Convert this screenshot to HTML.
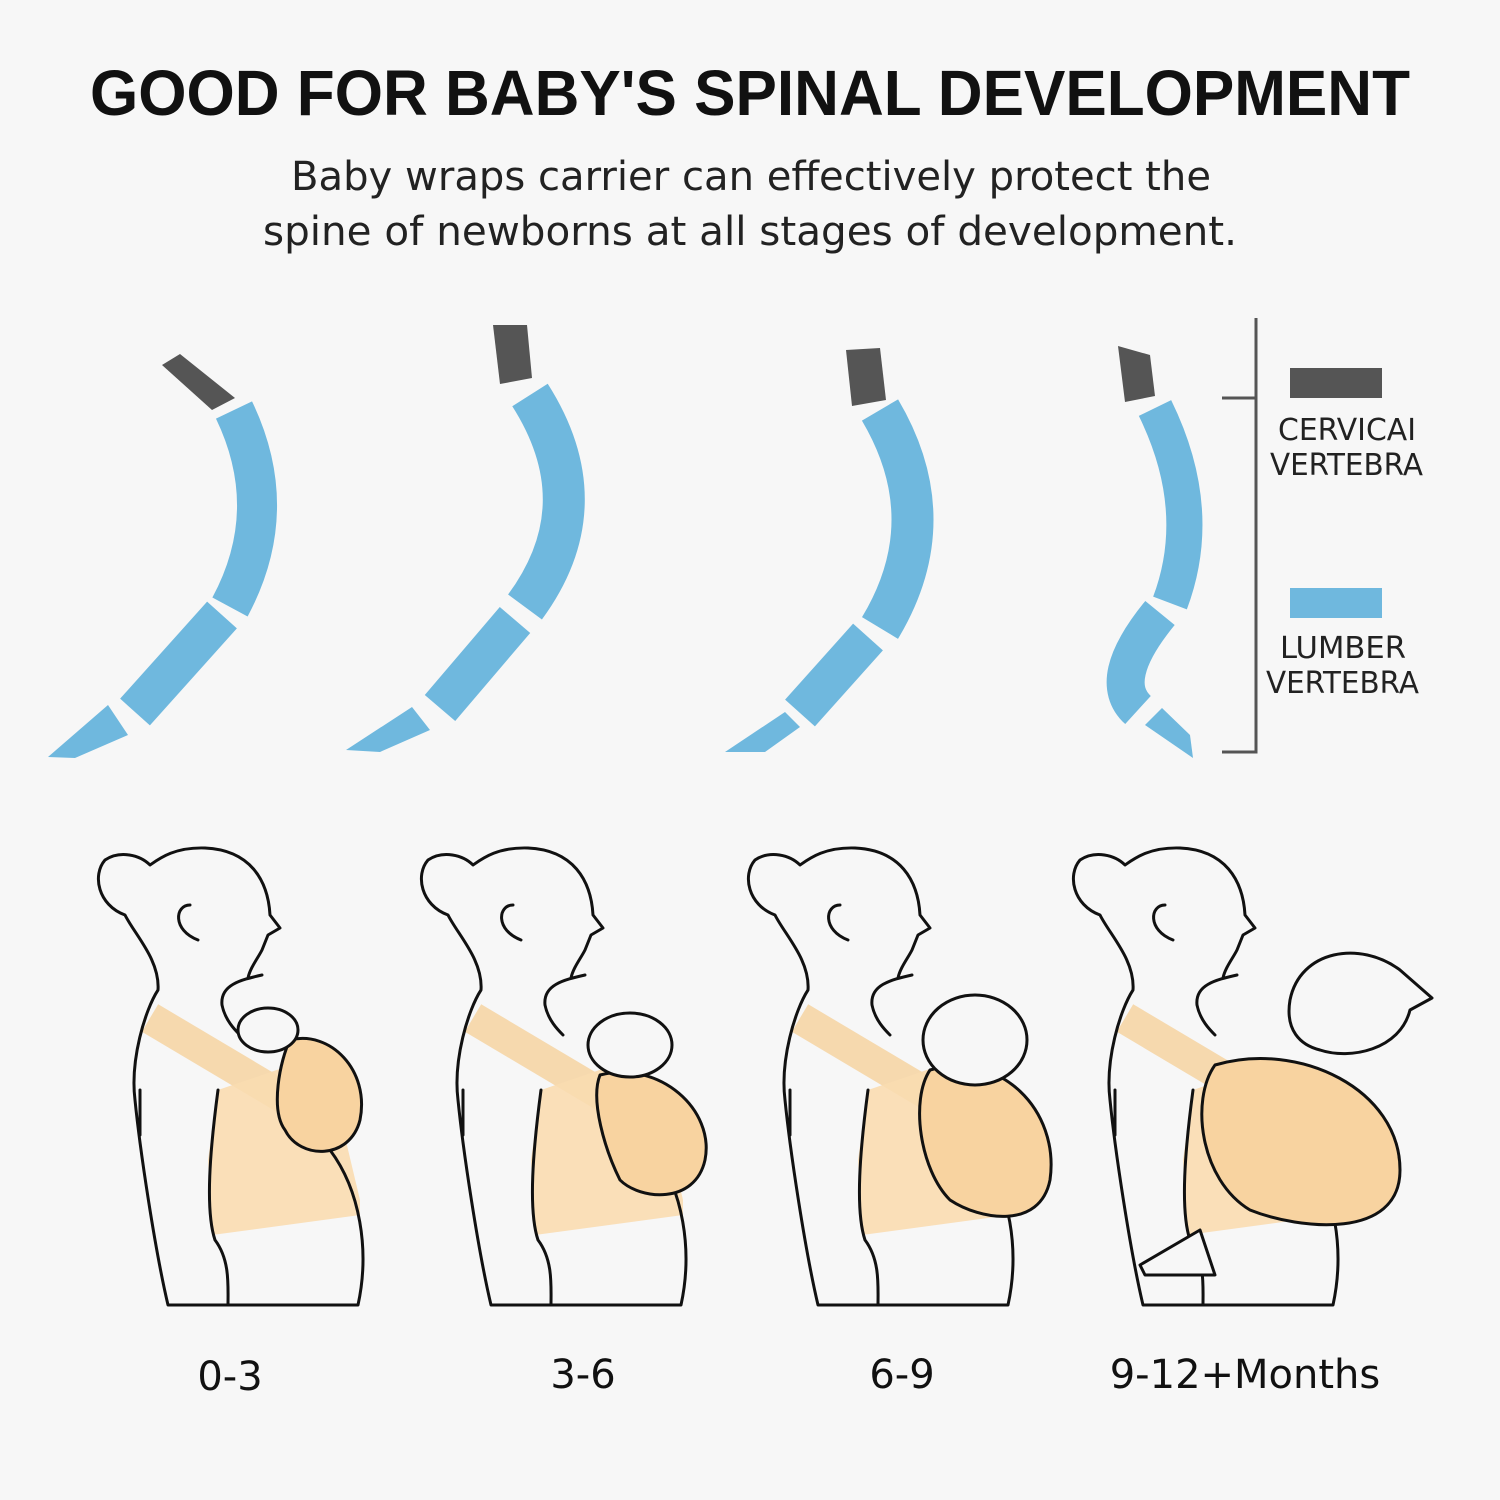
<!DOCTYPE html>
<html><head><meta charset="utf-8"><style>
html,body{margin:0;padding:0;background:#f7f7f7}
svg{display:block}
</style></head><body>
<svg width="1500" height="1500" viewBox="0 0 1500 1500" xmlns="http://www.w3.org/2000/svg">
<rect width="1500" height="1500" fill="#f7f7f7"/>
<text x="90" y="115" textLength="1320" lengthAdjust="spacingAndGlyphs" font-family="Liberation Sans, sans-serif" font-weight="bold" font-size="64" fill="#111">GOOD FOR BABY'S SPINAL DEVELOPMENT</text>
<text x="291" y="190" textLength="920" lengthAdjust="spacingAndGlyphs" font-family="DejaVu Sans, sans-serif" font-size="40" fill="#222">Baby wraps carrier can effectively protect the</text>
<text x="263" y="245" textLength="974" lengthAdjust="spacingAndGlyphs" font-family="DejaVu Sans, sans-serif" font-size="40" fill="#222">spine of newborns at all stages of development.</text>

<g fill="#555">
<polygon points="162,365 180,354 235,398 212,410"/>
<polygon points="493,325 527,325 532,378 500,384"/>
<polygon points="846,350 880,348 886,400 852,406"/>
<polygon points="1118,346 1150,355 1155,396 1125,402"/>
</g>
<g fill="none" stroke="#6fb8de" stroke-linecap="butt">
<path d="M234,410 Q282,510 230,607" stroke-width="40"/>
<path d="M222,615 L135,712" stroke-width="40"/>
<path d="M530,395 Q600,505 525,607" stroke-width="42"/>
<path d="M515,620 L440,708" stroke-width="40"/>
<path d="M880,410 Q945,520 880,628" stroke-width="42"/>
<path d="M868,637 L800,713" stroke-width="40"/>
<path d="M1155,408 Q1205,510 1170,603" stroke-width="36"/>
<path d="M1160,613 Q1105,680 1138,710" stroke-width="38"/>
</g>
<g fill="#6fb8de">
<polygon points="108,705 128,735 75,758 48,757"/>
<polygon points="412,707 430,730 380,752 346,750"/>
<polygon points="785,712 800,727 765,752 725,752"/>
<polygon points="1162,708 1190,735 1193,758 1145,725"/>
</g>
<g stroke="#555" stroke-width="3" fill="none">
<path d="M1256,318 L1256,752 L1222,752"/>
<path d="M1222,398 L1256,398"/>
</g>
<rect x="1290" y="368" width="92" height="30" fill="#555"/>
<rect x="1290" y="588" width="92" height="30" fill="#6fb8de"/>
<g font-family="DejaVu Sans, sans-serif" font-size="30" fill="#222">
<text x="1278" y="440" textLength="138" lengthAdjust="spacingAndGlyphs">CERVICAI</text>
<text x="1270" y="475" textLength="153" lengthAdjust="spacingAndGlyphs">VERTEBRA</text>
<text x="1280" y="658" textLength="126" lengthAdjust="spacingAndGlyphs">LUMBER</text>
<text x="1266" y="693" textLength="153" lengthAdjust="spacingAndGlyphs">VERTEBRA</text>
</g>

<defs>
<g id="mom">
<path d="M150,1018 L330,1125" stroke="#f6cf96" stroke-width="32" opacity="0.75" fill="none"/>
<polygon points="218,1090 300,1062 335,1095 360,1200 360,1215 212,1235 208,1160" fill="#f9dcb0" opacity="0.9"/>
<g fill="none" stroke="#111" stroke-width="3" stroke-linejoin="round" stroke-linecap="round">
<path d="M248,978 C250,968 258,958 262,950 L268,935 L280,928 L270,915 C268,880 250,850 205,848 C175,847 160,858 150,865 C140,855 120,850 105,860 C92,875 98,905 125,915 C135,935 160,960 158,990 C145,1010 130,1060 135,1100 C140,1150 155,1250 168,1305 L358,1305 C370,1250 360,1190 330,1150"/>
<path d="M262,975 C240,980 220,985 222,1005 C225,1020 235,1030 240,1035"/>
<path d="M218,1090 C210,1150 205,1210 215,1240 C230,1260 228,1285 228,1305"/>
<path d="M140,1090 L140,1135"/>
<path d="M190,905 C175,905 172,930 198,940"/>
</g>
</g>
</defs>
<use href="#mom"/>
<use href="#mom" transform="translate(323,0)"/>
<use href="#mom" transform="translate(650,0)"/>
<use href="#mom" transform="translate(975,0)"/>

<g stroke="#111" stroke-width="3" stroke-linejoin="round">
<path d="M290,1040 C330,1030 370,1070 360,1120 C350,1160 300,1160 285,1130 C270,1110 280,1060 290,1040Z" fill="#f8d3a0"/>
<ellipse cx="268" cy="1030" rx="30" ry="22" fill="#f7f7f7"/>
<path d="M600,1075 C660,1060 715,1110 705,1160 C695,1205 640,1200 620,1180 C605,1150 590,1100 600,1075Z" fill="#f8d3a0"/>
<ellipse cx="630" cy="1045" rx="42" ry="32" fill="#f7f7f7"/>
<path d="M930,1070 C1000,1050 1060,1110 1050,1180 C1040,1230 980,1220 950,1200 C920,1170 910,1100 930,1070Z" fill="#f8d3a0"/>
<ellipse cx="975" cy="1040" rx="52" ry="45" fill="#f7f7f7"/>
<path d="M1215,1065 C1300,1040 1400,1090 1400,1170 C1400,1240 1300,1230 1250,1210 C1200,1180 1190,1100 1215,1065Z" fill="#f8d3a0"/>
<path d="M1140,1265 L1200,1230 L1215,1275 L1145,1275Z" fill="#f7f7f7"/>
<path d="M1290,1000 C1300,950 1360,940 1400,970 L1432,998 L1410,1010 C1400,1050 1350,1060 1320,1050 C1300,1045 1285,1030 1290,1000Z" fill="#f7f7f7"/>
</g>

<g font-family="DejaVu Sans, sans-serif" font-size="40" fill="#111" text-anchor="middle">
<text x="230" y="1390">0-3</text>
<text x="583" y="1388">3-6</text>
<text x="902" y="1388">6-9</text>
<text x="1245" y="1388">9-12+Months</text>
</g>
</svg>
</body></html>
